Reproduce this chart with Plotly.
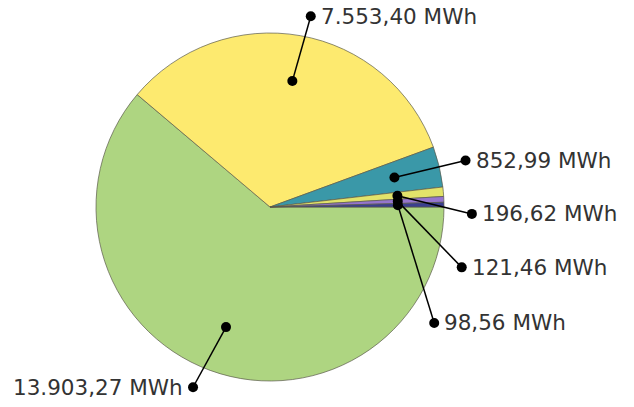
import numpy as np
import plotly.graph_objects as go

# energy per source (MWh), in drawing order (clockwise from 3 o'clock)
values = [13903.27, 7553.40, 852.99, 196.62, 121.46, 98.56]
labels = ["13.903,27 MWh", "7.553,40 MWh", "852,99 MWh", "196,62 MWh", "121,46 MWh", "98,56 MWh"]
colors = ["#aed581", "#fdea6f", "#3a98a8", "#e2e36a", "#9575cd", "#3b3f8f"]

# label layout: angular offset of the outer dot (deg) and its distance (px)
label_shift = [-3, -2, 0, -7, -20, -36]
label_dist = [196, 195, 201, 202, 201, 201]

W, H = 634, 407
cx, cy, R = 270, 200, 174  # pie centre (from bottom) and radius in px

fig = go.Figure()

fig.add_trace(go.Pie(
    values=values,
    sort=False,
    direction="clockwise",
    rotation=90,
    marker=dict(colors=colors, line=dict(color="#5a5a4a", width=0.7)),
    textinfo="none",
    hoverinfo="value",
    domain=dict(x=[(cx - R) / W, (cx + R) / W], y=[(cy - R) / H, (cy + R) / H]),
    showlegend=False,
))

# mid angle of every slice, measured counter-clockwise from 3 o'clock
total = sum(values)
ends = np.cumsum(values) / total * 360
mids = -(ends - np.array(values) / total * 180)

shapes, annotations = [], []
for mid, lab, shift, dist in zip(mids, labels, label_shift, label_dist):
    a_in = np.radians(mid)
    a_out = np.radians(mid + shift)
    x0, y0 = cx + 0.735 * R * np.cos(a_in), cy + 0.735 * R * np.sin(a_in)
    x1, y1 = cx + dist * np.cos(a_out), cy + dist * np.sin(a_out)
    shapes.append(dict(type="line", xref="x", yref="y", x0=x0, y0=y0, x1=x1, y1=y1,
                       line=dict(color="black", width=1.5), layer="above"))
    for px, py in [(x0, y0), (x1, y1)]:
        shapes.append(dict(type="circle", xref="x", yref="y",
                           xsizemode="pixel", ysizemode="pixel",
                           xanchor=px, yanchor=py, x0=-5, x1=5, y0=-5, y1=5,
                           fillcolor="black", line=dict(width=0), layer="above"))
    left = np.cos(a_out) < -0.2
    annotations.append(dict(
        x=x1 + (-8 if left else 8), y=y1, xref="x", yref="y",
        text=lab, showarrow=False,
        xanchor="right" if left else "left", yanchor="middle",
        font=dict(family="DejaVu Sans", size=21.5, color="#333333"),
    ))

fig.update_layout(
    width=W, height=H,
    margin=dict(l=0, r=0, t=0, b=0),
    paper_bgcolor="white",
    plot_bgcolor="rgba(0,0,0,0)",
    xaxis=dict(range=[0, W], visible=False, fixedrange=True),
    yaxis=dict(range=[0, H], visible=False, fixedrange=True),
    shapes=shapes,
    annotations=annotations,
)

fig.write_html("out.html", config={"displayModeBar": False},
               post_script="document.body.style.margin='0';")
